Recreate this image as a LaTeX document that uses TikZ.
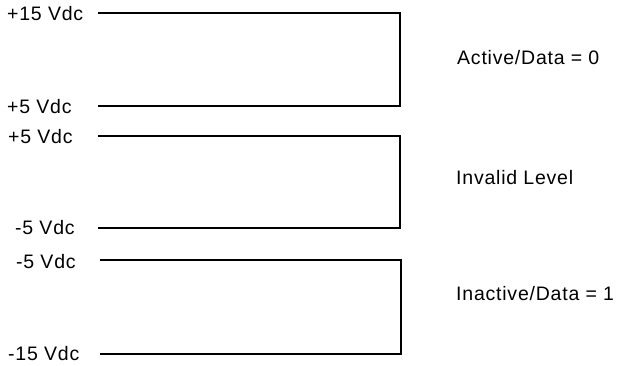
\documentclass[tikz,border=0pt]{standalone}
\usepackage{fontspec}
\newfontfamily\labfont[LetterSpace=4]{Liberation Sans}
\begin{document}
\begin{tikzpicture}[x=1pt,y=-1pt,
  lab/.style={anchor=west,inner sep=0pt,font=\labfont\fontsize{19.5}{23}\selectfont,text height=14pt,text depth=0pt},
  wire/.style={line width=1.8pt,line join=miter}]
\useasboundingbox (0,0) rectangle (618,365);
% bracket 1
\coordinate (a1) at (98,13);
\coordinate (b1) at (400,13);
\coordinate (c1) at (400,106);
\coordinate (d1) at (98,106);
% bracket 2
\coordinate (a2) at (98,136);
\coordinate (b2) at (400,136);
\coordinate (c2) at (400,228);
\coordinate (d2) at (98,228);
% bracket 3
\coordinate (a3) at (100,260);
\coordinate (b3) at (401,260);
\coordinate (c3) at (401,354);
\coordinate (d3) at (100,354);
\draw[wire] (a1) -- (b1) -- (c1) -- (d1);
\draw[wire] (a2) -- (b2) -- (c2) -- (d2);
\draw[wire] (a3) -- (b3) -- (c3) -- (d3);
% left labels
\node[lab] (l1) at (7,13) {+15 Vdc};
\node[lab] (l2) at (7,106) {+5 Vdc};
\node[lab] (l3) at (8,136) {+5 Vdc};
\node[lab] (l4) at (15,227) {-5 Vdc};
\node[lab] (l5) at (16,261) {-5 Vdc};
\node[lab] (l6) at (8,353) {-15 Vdc};
% right labels
\node[lab] (r1) at (457,57) {Active/Data = 0};
\node[lab] (r2) at (456,177) {Invalid Level};
\node[lab] (r3) at (456,293) {Inactive/Data = 1};
\end{tikzpicture}
\end{document}
